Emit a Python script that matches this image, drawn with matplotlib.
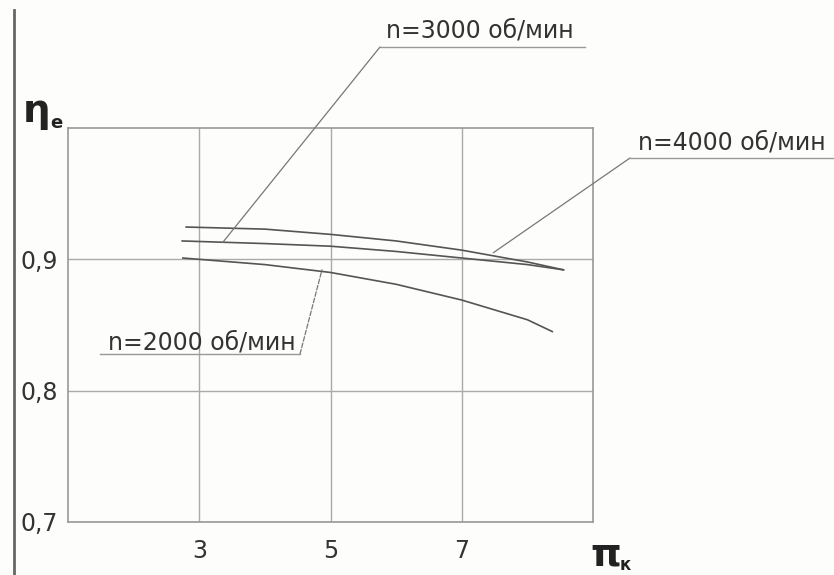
import matplotlib
matplotlib.use("Agg")
import matplotlib.pyplot as plt
from matplotlib.lines import Line2D

# data
x_ticks = [3, 5, 7]
y_ticks = [0.7, 0.8, 0.9]
y_tick_labels = ["0,7", "0,8", "0,9"]

pi_4000 = [2.8, 4.0, 5.0, 6.0, 7.0, 8.0, 8.55]
eta_4000 = [0.9246, 0.923, 0.919, 0.914, 0.907, 0.898, 0.892]
pi_3000 = [2.74, 4.0, 5.0, 6.0, 7.0, 8.0, 8.55]
eta_3000 = [0.914, 0.912, 0.910, 0.906, 0.901, 0.896, 0.892]
pi_2000 = [2.75, 4.0, 5.0, 6.0, 7.0, 8.0, 8.38]
eta_2000 = [0.901, 0.896, 0.890, 0.881, 0.869, 0.854, 0.845]

labels = ["n=3000 об/мин", "n=4000 об/мин", "n=2000 об/мин"]
anchor_pts = [(3.36, 0.913), (7.48, 0.905), (4.87, 0.892)]

W, H = 834, 575
fig = plt.figure(figsize=(W / 100, H / 100), dpi=100)
fig.patch.set_facecolor("#fdfdfb")
ax = fig.add_axes([68 / W, 1 - 522 / H, (593 - 68) / W, (522 - 128) / H])
ax.set_facecolor("#fdfdfb")
ax.set_xlim(1, 9)
ax.set_ylim(0.7, 1.0)
ax.set_xticks(x_ticks)
ax.set_xticklabels([str(v) for v in x_ticks])
ax.set_yticks(y_ticks)
ax.set_yticklabels(y_tick_labels)
ax.tick_params(length=0, labelsize=17, colors="#333333")
ax.tick_params(axis="x", pad=12)
ax.tick_params(axis="y", pad=7)
ax.grid(True, color="#aaaaaa", lw=1.0)
for s in ax.spines.values():
    s.set_color("#999999")
    s.set_linewidth(1.2)

lc = "#555555"
ax.plot(pi_4000, eta_4000, color=lc, lw=1.2)
ax.plot(pi_3000, eta_3000, color=lc, lw=1.2)
ax.plot(pi_2000, eta_2000, color=lc, lw=1.2)

# annotations (figure pixels, top-origin)
specs = [
    (386, 30, 47, 380, 585, 380, "-"),
    (638, 143, 158, 630, 834, 630, "-"),
    (108, 343, 354, 100, 300, 300, "--"),
]
for lab, (tx, ty, uy, ux0, ux1, lx, ls), (ax_x, ax_y) in zip(labels, specs, anchor_pts):
    fig.text(tx / W, 1 - ty / H, lab, fontsize=17, color="#333333", va="center", ha="left")
    fig.add_artist(Line2D([ux0 / W, ux1 / W], [1 - uy / H, 1 - uy / H], color="#999999", lw=1.0))
    ax.annotate("", xy=(ax_x, ax_y), xycoords="data",
                xytext=(lx / W, 1 - uy / H), textcoords="figure fraction",
                arrowprops=dict(arrowstyle="-", color="#777777", lw=0.9, linestyle=ls,
                                shrinkA=0, shrinkB=0))

# axis titles
fig.text(23 / W, 1 - 122 / H, "η", fontsize=28, color="#222222", va="baseline", ha="left", fontweight="bold")
fig.text(50 / W, 1 - 128 / H, "e", fontsize=13, color="#222222", va="baseline", ha="left", fontweight="bold")
fig.text(590 / W, 1 - 565 / H, "π", fontsize=28, color="#222222", va="baseline", ha="left", fontweight="bold")
fig.text(620 / W, 1 - 570 / H, "к", fontsize=12, color="#222222", va="baseline", ha="left", fontweight="bold")

# left border line
fig.add_artist(Line2D([14 / W, 14 / W], [0, 1 - 10 / H], color="#666666", lw=2))

fig.savefig("out.png", dpi=100, facecolor=fig.get_facecolor())
